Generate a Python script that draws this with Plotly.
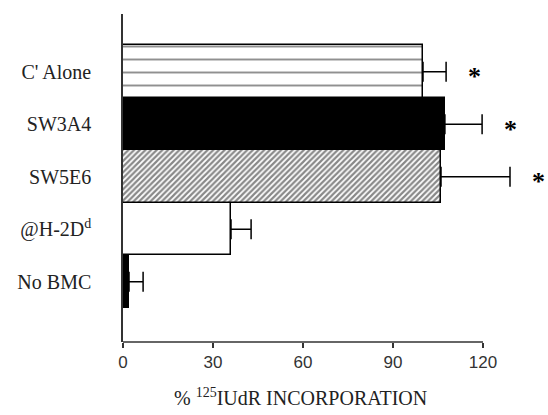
import plotly.graph_objects as go

categories = ["No BMC", "@H-2D<sup>d</sup>", "SW5E6", "SW3A4", "C' Alone"]
values = [2, 36, 106, 107.3, 100]
errors = [4.7, 6.7, 23, 12.4, 7.7]
significant = [False, False, True, True, True]
x_ticks = [0, 30, 60, 90, 120]

fill_colors = ["black", "white", "white", "black", "white"]
pattern_shapes = ["", "", "/", "", "-"]
pattern_fg = ["black", "black", "#111111", "black", "#222222"]
pattern_size = [8, 8, 4, 8, 13]
pattern_solidity = [0.3, 0.3, 0.55, 0.3, 0.15]

ypos = list(range(len(categories)))

fig = go.Figure()
for i in range(len(categories)):
    marker = dict(color=fill_colors[i], line=dict(color="black", width=1.5))
    if pattern_shapes[i]:
        marker["pattern"] = dict(shape=pattern_shapes[i], fgcolor=pattern_fg[i],
                                 bgcolor=fill_colors[i], size=pattern_size[i],
                                 solidity=pattern_solidity[i])
    fig.add_trace(go.Bar(
        x=[values[i]], y=[ypos[i]], orientation="h", width=1,
        marker=marker,
        error_x=dict(type="data", symmetric=False, array=[errors[i]],
                     arrayminus=[0], color="black", thickness=1.5, width=10),
        showlegend=False,
    ))

for yv, v, e, s in zip(ypos, values, errors, significant):
    if s:
        fig.add_annotation(x=v + e, y=yv, text="<b>*</b>", showarrow=False,
                           xshift=28, yshift=-5,
                           font=dict(family="Liberation Serif", size=26, color="black"))

fig.add_annotation(x=59, y=0, xref="x", yref="paper", yshift=-69,
                   text="% <sup>125</sup>IUdR INCORPORATION", showarrow=False,
                   font=dict(family="Liberation Serif", size=20, color="#222"))

fig.add_shape(type="line", x0=x_ticks[0], x1=x_ticks[-1], y0=0, y1=0,
              xref="x", yref="paper", line=dict(color="#333", width=1.5))

fig.update_xaxes(range=[0, 141], tickvals=x_ticks, ticktext=[str(t) for t in x_ticks],
                 showline=False, showgrid=False, zeroline=False,
                 ticks="outside", ticklen=5, tickwidth=1.5, tickcolor="#333",
                 tickfont=dict(family="Liberation Sans", size=17, color="#333"))
fig.update_yaxes(range=[-1.15, 5.1], tickvals=ypos, ticktext=categories,
                 showline=True, linecolor="#333", linewidth=1.5,
                 showgrid=False, zeroline=False, ticks="",
                 ticklabelstandoff=26,
                 tickfont=dict(family="Liberation Serif", size=20, color="#222"))

fig.update_layout(width=548, height=415, margin=dict(l=123, r=2, t=14, b=73),
                  paper_bgcolor="white", plot_bgcolor="white", bargap=0, barmode="overlay")

fig.write_html("out.html")
